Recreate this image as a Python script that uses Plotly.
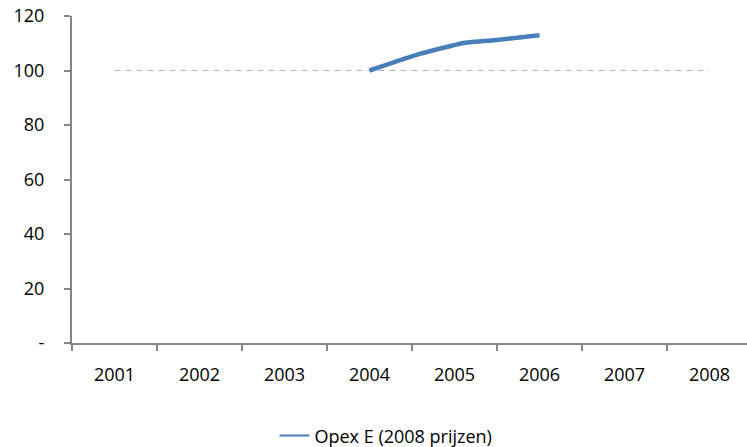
import plotly.graph_objects as go

years = [2001, 2002, 2003, 2004, 2005, 2006, 2007, 2008]
year_labels = ["2001", "2002", "2003", "2004", "2005", "2006", "2007", "2008"]
reference_values = [100, 100, 100, 100, 100, 100, 100, 100]

opex_time = [2004.0, 2004.59, 2005.12, 2005.5, 2006.0]
opex_values = [100.0, 106.1, 110.2, 111.2, 112.9]
series_name = "Opex E (2008 prijzen)"

y_ticks = [0, 20, 40, 60, 80, 100, 120]
y_tick_labels = ["-", "20", "40", "60", "80", "100", "120"]

FONT = "Open Sans"
AXIS_COLOR = "#868686"
LINE_COLOR = "#4a7ebb"

fig = go.Figure()
fig.add_trace(go.Scatter(
    x=years, y=reference_values, mode="lines",
    line=dict(color="#a3b3d2", width=1.2, dash="6px,5px"),
    showlegend=False, hoverinfo="skip",
))
fig.add_trace(go.Scatter(
    x=opex_time, y=opex_values, mode="lines",
    line=dict(color=LINE_COLOR, width=4.5, shape="spline", smoothing=0.4),
    showlegend=False, name=series_name,
))
# legend entry (thinner line, as in reference legend)
fig.add_trace(go.Scatter(
    x=[None], y=[None], mode="lines",
    line=dict(color=LINE_COLOR, width=2),
    name=series_name, showlegend=True,
))

half_steps = [y - 0.5 for y in years] + [years[-1] + 0.5]

fig.update_layout(
    width=747, height=447,
    margin=dict(l=72, r=0, t=16, b=104, autoexpand=False),
    paper_bgcolor="white", plot_bgcolor="white",
    font=dict(family=FONT, size=18, color="black"),
    showlegend=True,
    legend=dict(
        orientation="h", x=0.30, xanchor="left", y=-0.284, yanchor="middle",
        font=dict(family=FONT, size=18, color="black"),
        bgcolor="rgba(0,0,0,0)",
    ),
    xaxis=dict(
        range=[2000.5, 2000.5 + 675 / 85],
        tickmode="array", tickvals=years, ticktext=year_labels,
        ticks="", showgrid=False, zeroline=False, automargin=False,
        showline=True, linecolor=AXIS_COLOR, linewidth=2,
        ticklabelstandoff=14, ticklabeloverflow="allow",
        minor=dict(tickmode="array", tickvals=half_steps, ticks="outside",
                   ticklen=6, tickcolor=AXIS_COLOR, tickwidth=2, showgrid=False),
    ),
    yaxis=dict(
        range=[0, 120],
        tickmode="array", tickvals=y_ticks, ticktext=y_tick_labels,
        ticks="outside", ticklen=6, tickcolor=AXIS_COLOR, tickwidth=2,
        showgrid=False, zeroline=False, automargin=False,
        showline=True, linecolor=AXIS_COLOR, linewidth=2,
        ticklabelstandoff=16, ticklabeloverflow="allow",
    ),
)

fig.write_html(
    "out.html",
    config={"displayModeBar": False},
    post_script="document.body.style.margin='0';document.body.style.padding='0';",
)
